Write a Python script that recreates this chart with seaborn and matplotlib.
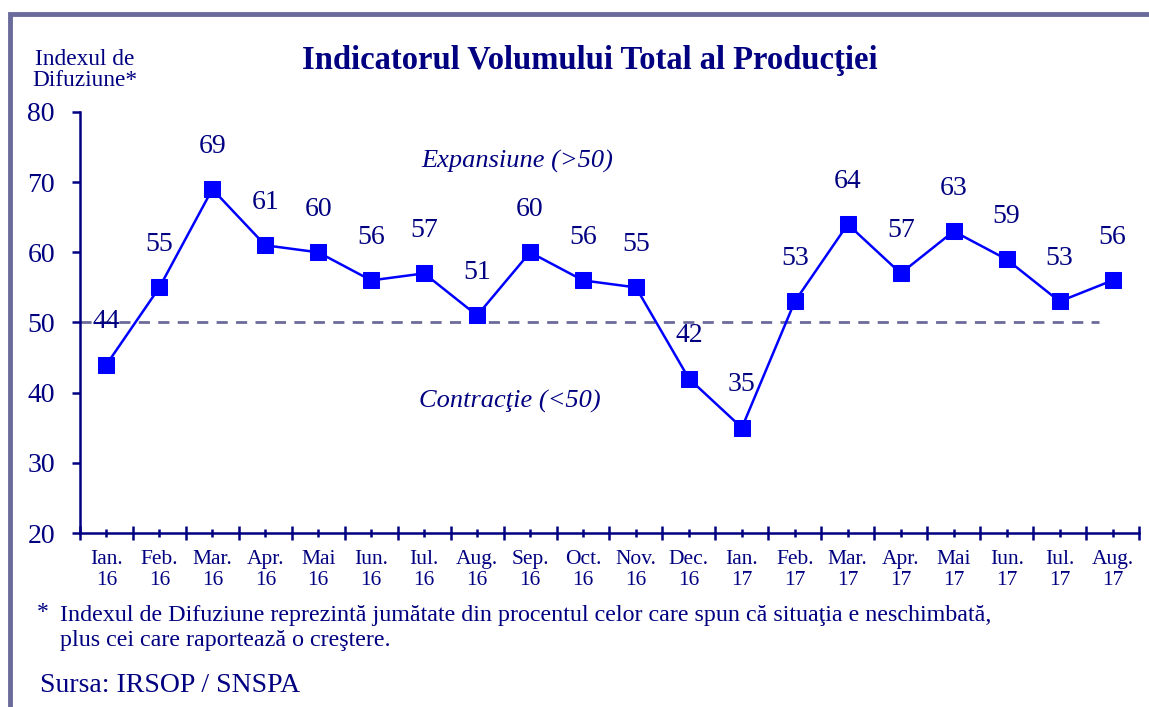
import numpy as np
import pandas as pd
import seaborn as sns
import matplotlib.pyplot as plt
from matplotlib.patches import Rectangle

# data
months = ['Ian.', 'Feb.', 'Mar.', 'Apr.', 'Mai', 'Iun.', 'Iul.', 'Aug.', 'Sep.', 'Oct.',
          'Nov.', 'Dec.', 'Ian.', 'Feb.', 'Mar.', 'Apr.', 'Mai', 'Iun.', 'Iul.', 'Aug.']
years = ['16'] * 12 + ['17'] * 8
values = [44, 55, 69, 61, 60, 56, 57, 51, 60, 56, 55, 42, 35, 53, 64, 57, 63, 59, 53, 56]
y_ticks = [20, 30, 40, 50, 60, 70, 80]
threshold = 50

navy = '#000080'
blue = '#0000ff'
frame = '#6b6b9b'

sns.set_style('white')
plt.rcParams['font.family'] = ['Liberation Serif', 'DejaVu Serif']

df = pd.DataFrame({'idx': np.arange(len(values)), 'value': values})

fig = plt.figure(figsize=(11.49, 7.07), dpi=100)
ax = fig.add_axes([0.0696, 0.2461, 0.9217, 0.5955])

# neutral line
ax.hlines(threshold, -0.5, 18.75, colors=frame, linestyles=(0, (4, 3)), linewidth=2, zorder=1)

sns.lineplot(data=df, x='idx', y='value', ax=ax, color=blue, linewidth=1.8,
             marker='s', markersize=11, markeredgecolor=blue, markerfacecolor=blue, zorder=3)

for i, v in enumerate(values):
    ax.annotate(str(v), (i, v), xytext=(0, 31), textcoords='offset points',
                ha='center', va='center', fontsize=20, color=navy)

ax.set_xlim(-0.5, len(values) - 0.5)
ax.set_ylim(20, 80)
ax.set_yticks(y_ticks)
ax.set_xticks(np.arange(len(values) + 1) - 0.5)
ax.set_xticklabels([])
ax.set_xticks(np.arange(len(values)), minor=True)
ax.set_xticklabels([f'{m}\n{y}' for m, y in zip(months, years)], minor=True)

ax.tick_params(axis='y', direction='out', length=6, width=1.8, colors=navy,
               labelsize=20, pad=12, left=True)
ax.tick_params(axis='x', which='major', direction='inout', length=10, width=1.8,
               colors=navy, bottom=True)
ax.tick_params(axis='x', which='minor', direction='inout', length=6, width=1.8,
               colors=navy, labelsize=15.5, pad=9, bottom=True)
for lab in ax.get_xticklabels(minor=True):
    lab.set_linespacing(1.15)

for side in ['top', 'right']:
    ax.spines[side].set_visible(False)
for side in ['left', 'bottom']:
    ax.spines[side].set_color(navy)
    ax.spines[side].set_linewidth(1.8)

ax.set_xlabel('')
ax.set_ylabel('')

ax.text(7.75, 72.9, 'Expansiune (>50)', style='italic', fontsize=19, color=navy, ha='center', va='center')
ax.text(7.62, 38.7, 'Contracţie (<50)', style='italic', fontsize=19, color=navy, ha='center', va='center')

fig.text(590 / 1149, 1 - 60 / 707, 'Indicatorul Volumului Total al Producţiei',
         fontsize=23.5, fontweight='bold', color=navy, ha='center', va='center')
fig.text(85 / 1149, 1 - 70 / 707, 'Indexul de\nDifuziune*', fontsize=16.8, color=navy,
         ha='center', va='center', linespacing=1.0)

fig.text(37 / 1149, 1 - 613 / 707, '*', fontsize=17, color=navy, ha='left', va='center')
fig.text(60 / 1149, 1 - 628 / 707,
         'Indexul de Difuziune reprezintă jumătate din procentul celor care spun că situaţia e neschimbată,\n'
         'plus cei care raportează o creştere.',
         fontsize=17.3, color=navy, ha='left', va='center', linespacing=1.27)
fig.text(40 / 1149, 1 - 686 / 707, 'Sursa: IRSOP / SNSPA', fontsize=20, color=navy,
         ha='left', va='center')

# outer frame (left and top edges visible)
fig.patches.append(Rectangle((10 / 1149, -0.05), 1.2, 1 - 14 / 707 + 0.05,
                             transform=fig.transFigure, fill=False,
                             edgecolor=frame, linewidth=3.5))

fig.savefig('out.png', dpi=100)
